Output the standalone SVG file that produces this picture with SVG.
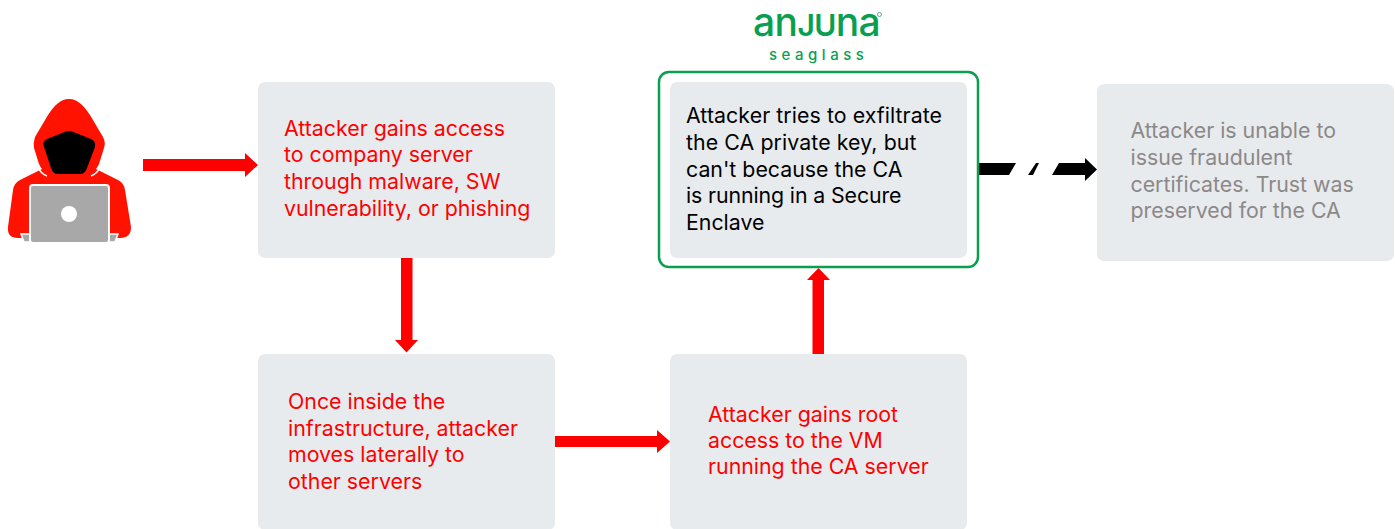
<svg xmlns="http://www.w3.org/2000/svg" width="1395" height="529" viewBox="0 0 1395 529">
<style>
.box{fill:#e8ebee}
text{font-family:Inter,"Liberation Sans",sans-serif;font-size:21.33px}
.red{fill:#ff0000}
.blk{fill:#000}
.gry{fill:#8c8888}
.arrow-red{fill:#ff0000}
.logo{fill:#0a9f50}
</style>
<rect width="1395" height="529" fill="#fff"/>
<g id="hacker">
<path fill="#ff1200" d="M69 99C78 99 84 106 90 115L103 137Q106 143 104 148L99 164Q97 168 96 169L118 180Q124 183 125 190L131 227Q131 238 120 238H18Q7 238 8 227L13 190Q14 183 20 180L42 169Q41 168 39 164L34 148Q33 143 35 137L48 115C54 106 60 99 69 99Z"/>
<path fill="none" stroke="#fff" stroke-width="1.6" d="M38 167Q41 174 47 176M100 167Q97 174 91 176"/>
<path fill="#000" d="M69 131Q72 131 76 133L91 139Q96 141 95 147L87 168Q85 174 80 174H58Q53 174 51 168L44 147Q42 141 47 139L62 133Q66 131 69 131Z"/>
<path fill="#a8a8a8" stroke="#fff" stroke-width="1.5" d="M21 234H118L115 242H24Z"/>
<rect x="30" y="185" width="79" height="58" rx="3" fill="#a8a8a8" stroke="#fff" stroke-width="2"/>
<circle cx="69" cy="214" r="8" fill="#fff"/>
</g>
<g id="connectors">
<path class="arrow-red" d="M143 159H245V153L258 165L245 177V171H143Z"/>
<path class="arrow-red" d="M401 258H412.500V340H418L406.500 352.500L395 340H401Z"/>
<path class="arrow-red" d="M555 436H657V430L670 441.500L657 453V447H555Z"/>
<path class="arrow-red" d="M812.500 354V280H807L818.500 268L830 280H824V354Z"/>
<path fill="#000" d="M979 163H1016L1009 175H979ZM1036 163H1039L1033 175H1028ZM1059 163H1085V158L1097 169.500L1085 181V175H1052Z"/>
</g>
<g id="node-access">
<rect class="box" x="258" y="82" width="297" height="176" rx="7"/>
<text class="red" x="284" y="136">Attacker gains access</text>
<text class="red" x="284" y="162">to company server</text>
<text class="red" x="284" y="189">through malware, SW</text>
<text class="red" x="284" y="216">vulnerability, or phishing</text>
</g>
<g id="node-lateral">
<rect class="box" x="258" y="354" width="297" height="176" rx="7"/>
<text class="red" x="288" y="409">Once inside the</text>
<text class="red" x="288" y="435.500">infrastructure, attacker</text>
<text class="red" x="288" y="462">moves laterally to</text>
<text class="red" x="288" y="489">other servers</text>
</g>
<g id="node-root">
<rect class="box" x="670" y="354" width="297" height="176" rx="7"/>
<text class="red" x="708" y="421.500">Attacker gains root</text>
<text class="red" x="708" y="448">access to the VM</text>
<text class="red" x="708" y="474">running the CA server</text>
</g>
<g id="node-exfiltrate">
<rect x="659" y="72" width="319" height="195" rx="10" fill="#fff" stroke="#0a9f50" stroke-width="2.500"/>
<rect class="box" x="670" y="82" width="297" height="176" rx="7"/>
<text class="blk" x="686" y="123" textLength="256">Attacker tries to exfiltrate</text>
<text class="blk" x="686" y="150" textLength="230.500">the CA private key, but</text>
<text class="blk" x="686" y="176.500">can't because the CA</text>
<text class="blk" x="686" y="203" textLength="215.500">is running in a Secure</text>
<text class="blk" x="686" y="230">Enclave</text>
</g>
<g id="node-unable">
<rect class="box" x="1097" y="84" width="297" height="177" rx="7"/>
<text class="gry" x="1130.500" y="138">Attacker is unable to</text>
<text class="gry" x="1130.500" y="165">issue fraudulent</text>
<text class="gry" x="1130.500" y="192">certificates. Trust was</text>
<text class="gry" x="1130.500" y="218">preserved for the CA</text>
</g>
<g id="logo">
<text class="logo" x="753" y="35.500" style="font-size:39px;font-weight:500;letter-spacing:-.6px">an<tspan style="font-size:30px;font-weight:600">JU</tspan>na</text>
<text class="logo" x="769" y="60" style="font-size:15px;letter-spacing:4.500px;font-weight:500">seaglass</text>
<circle cx="879.500" cy="14.500" r="2" fill="none" stroke="#0a9f50" stroke-width=".7"/>
</g>
</svg>
